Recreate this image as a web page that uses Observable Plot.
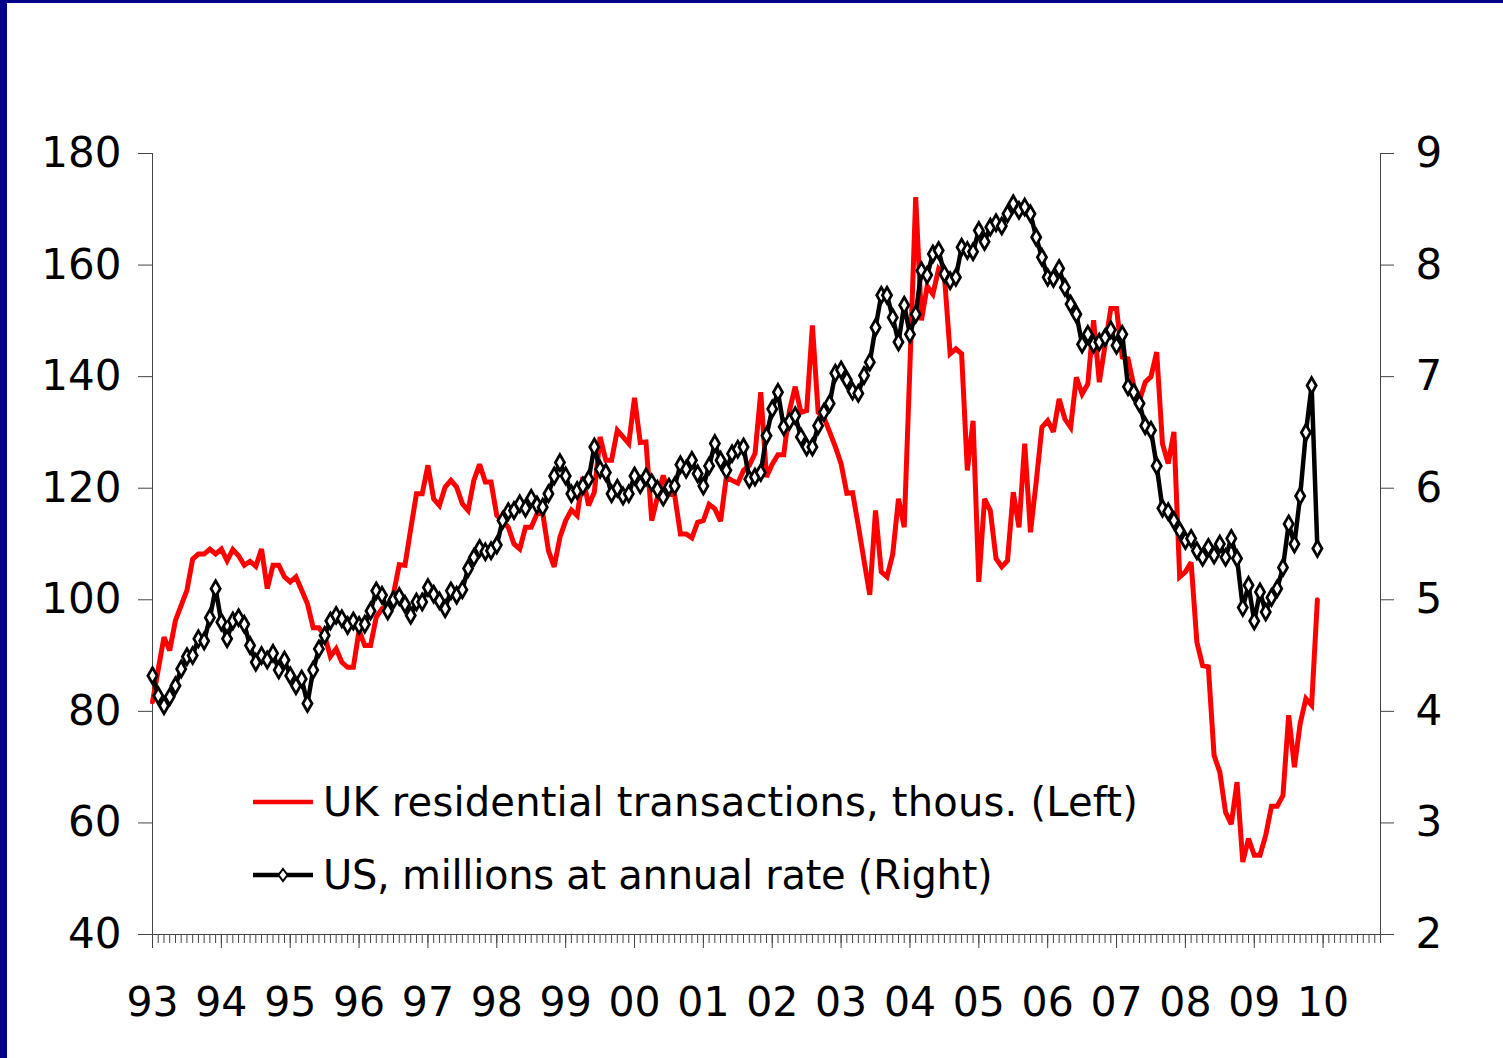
<!DOCTYPE html>
<html>
<head>
<meta charset="utf-8">
<script src="https://cdn.jsdelivr.net/npm/d3@7"></script>
<script src="https://cdn.jsdelivr.net/npm/@observablehq/plot@0.6"></script>
<style>
  html, body { margin: 0; padding: 0; background: #fff; }
  #wrap { position: relative; width: 1503px; height: 1058px; overflow: hidden; background: #fff; }
  #chart { position: absolute; left: 0; top: 0; }
  .bar-top { position: absolute; left: 0; top: 0; width: 1503px; height: 3px; background: #00008c; }
  .bar-left { position: absolute; left: 0; top: 0; width: 7px; height: 1058px; background: #00008c; }
  .legend-row { position: absolute; left: 253px; height: 50px; display: flex; align-items: center;
    font-family: "DejaVu Sans", sans-serif; font-size: 40px; color: #000; white-space: nowrap; }
  .legend-row svg { margin-right: 10px; }
  #leg1 span { letter-spacing: 0.2px; }
  #leg2 span { letter-spacing: -0.28px; }
</style>
</head>
<body>
<div id="wrap">
  <div id="chart"></div>
  <div class="bar-top"></div>
  <div class="bar-left"></div>
  <div class="legend-row" id="leg1"></div>
  <div class="legend-row" id="leg2"></div>
</div>
<script>
// Monthly data, Jan 1993 .. Dec 2009
const startYear = 1993;
const yearLabels = ["93","94","95","96","97","98","99","00","01","02","03","04","05","06","07","08","09","10"];
const leftTicks = [40, 60, 80, 100, 120, 140, 160, 180];
const rightTicks = [2, 3, 4, 5, 6, 7, 8, 9];
const seriesNames = ["UK residential transactions, thous. (Left)", "US, millions at annual rate (Right)"];

// UK residential transactions, thousands (left axis)
const ukValues = [
  81.7, 87.5, 93.3, 90.9, 96.3, 99.0, 101.7, 107.3, 108.2, 108.2, 109.1, 108.2,
  109.1, 107.0, 109.0, 107.9, 106.2, 106.9, 106.0, 109.1, 102.0, 106.2, 106.2, 104.1,
  103.2, 104.1, 101.7, 99.3, 95.0, 95.0, 93.6, 89.8, 91.2, 88.8, 87.9, 87.9,
  94.5, 91.8, 91.8, 96.9, 98.4, 99.0, 101.1, 106.3, 106.2, 112.7, 119.0, 119.0,
  124.1, 118.1, 116.9, 120.2, 121.4, 120.2, 117.2, 116.0, 121.4, 124.3, 121.1, 121.1,
  115.1, 114.2, 113.0, 110.0, 109.1, 113.0, 113.0, 115.4, 115.5, 108.8, 105.9, 111.2,
  114.2, 116.1, 115.1, 122.0, 116.9, 119.3, 129.2, 125.0, 125.0, 130.4, 129.2, 128.0,
  136.2, 128.2, 128.3, 114.2, 118.4, 122.3, 119.0, 118.7, 111.8, 111.8, 111.1, 113.9,
  114.2, 117.1, 116.3, 114.1, 122.0, 121.4, 120.9, 123.2, 124.1, 126.2, 137.2, 122.0,
  124.3, 126.0, 126.0, 133.9, 138.2, 133.6, 133.9, 149.2, 133.6, 132.7, 130.1, 127.4,
  124.4, 119.1, 119.2, 113.3, 107.0, 100.9, 116.0, 105.0, 104.1, 108.2, 118.1, 113.0,
  142.0, 172.2, 150.1, 156.2, 154.8, 159.3, 158.1, 144.1, 145.0, 144.1, 123.2, 132.1,
  103.2, 118.1, 116.0, 107.4, 105.9, 107.0, 119.3, 113.0, 128.0, 112.1, 121.1, 130.9,
  132.1, 130.1, 136.0, 132.4, 130.9, 139.9, 136.9, 138.7, 150.1, 139.0, 145.6, 152.2,
  152.2, 143.5, 143.2, 138.4, 135.7, 139.0, 140.0, 144.4, 128.0, 124.4, 130.1, 104.1,
  105.0, 106.7, 92.4, 88.2, 88.0, 72.1, 69.1, 61.9, 59.8, 67.3, 53.0, 57.2,
  54.2, 54.2, 57.8, 63.0, 63.0, 64.9, 79.3, 70.0, 77.8, 82.3, 81.1, 100.0
];

// US home sales, millions at annual rate (right axis)
const usValues = [
  4.32, 4.14, 4.05, 4.13, 4.23, 4.38, 4.49, 4.50, 4.65, 4.63, 4.84, 5.10,
  4.80, 4.65, 4.81, 4.84, 4.78, 4.59, 4.44, 4.50, 4.46, 4.52, 4.37, 4.46,
  4.32, 4.23, 4.29, 4.07, 4.37, 4.56, 4.68, 4.81, 4.86, 4.83, 4.77, 4.81,
  4.77, 4.78, 4.90, 5.08, 5.04, 4.90, 5.00, 5.03, 4.96, 4.86, 4.98, 4.98,
  5.11, 5.05, 4.99, 4.92, 5.08, 5.04, 5.09, 5.28, 5.38, 5.46, 5.43, 5.44,
  5.49, 5.71, 5.79, 5.80, 5.86, 5.82, 5.91, 5.85, 5.83, 5.95, 6.11, 6.23,
  6.11, 5.95, 5.98, 6.02, 6.08, 6.37, 6.17, 6.14, 5.95, 6.00, 5.93, 5.95,
  6.11, 6.03, 6.10, 6.05, 5.99, 5.92, 6.01, 6.02, 6.21, 6.17, 6.25, 6.13,
  6.02, 6.20, 6.40, 6.25, 6.16, 6.31, 6.35, 6.37, 6.08, 6.10, 6.14, 6.47,
  6.71, 6.86, 6.55, 6.60, 6.65, 6.46, 6.37, 6.37, 6.56, 6.68, 6.76, 7.03,
  7.06, 6.97, 6.87, 6.85, 7.01, 7.13, 7.44, 7.73, 7.73, 7.53, 7.31, 7.64,
  7.38, 7.56, 7.95, 7.91, 8.10, 8.13, 7.92, 7.86, 7.89, 8.16, 8.13, 8.12,
  8.31, 8.21, 8.34, 8.38, 8.35, 8.46, 8.55, 8.49, 8.52, 8.46, 8.25, 8.07,
  7.89, 7.88, 7.97, 7.80, 7.65, 7.56, 7.29, 7.38, 7.29, 7.31, 7.35, 7.42,
  7.28, 7.38, 6.91, 6.86, 6.76, 6.56, 6.52, 6.20, 5.82, 5.79, 5.71, 5.62,
  5.53, 5.55, 5.44, 5.38, 5.47, 5.40, 5.50, 5.38, 5.55, 5.37, 4.93, 5.13,
  4.81, 5.07, 4.89, 5.02, 5.10, 5.29, 5.68, 5.50, 5.93, 6.50, 6.92, 5.46
];

// month index since Jan 1993
const monthIndex = d3.range(ukValues.length);
const uk = monthIndex.map(i => ({m: i, v: ukValues[i]}));
const us = monthIndex.map(i => ({m: i, v: usValues[i]}));

// right scale (2..9) mapped onto the left scale (40..180)
const rightToLeft = d3.scaleLinear().domain([rightTicks[0], rightTicks[rightTicks.length - 1]])
  .range([leftTicks[0], leftTicks[leftTicks.length - 1]]);

const xMax = 214;
const yearTicks = yearLabels.map((_, k) => k * 12);
const monthTicks = d3.range(0, xMax + 1);
const axisColor = "#444";
const font = "DejaVu Sans";

const chart = Plot.plot({
  width: 1503,
  height: 1058,
  marginLeft: 152,
  marginRight: 123,
  marginTop: 153,
  marginBottom: 124,
  x: {domain: [0, xMax], axis: null},
  y: {domain: [leftTicks[0], leftTicks[leftTicks.length - 1]], axis: null},
  style: {fontFamily: font, background: "transparent", color: "#000", overflow: "visible"},
  marks: [
    // minor monthly ticks
    Plot.axisX({ticks: monthTicks, tickSize: 9, tickFormat: () => "", label: null, stroke: axisColor, strokeWidth: 1}),
    // major yearly ticks with labels
    Plot.axisX({ticks: yearTicks, tickSize: 14, tickPadding: 38, fontSize: 41, label: null,
      tickFormat: d => yearLabels[yearTicks.indexOf(d)], stroke: axisColor, strokeWidth: 1, fill: "#000"}),
    // left axis
    Plot.axisY({ticks: leftTicks, anchor: "left", tickSize: 14, tickPadding: 17, fontSize: 42, label: null,
      stroke: axisColor, strokeWidth: 1, fill: "#000", tickFormat: d => String(d)}),
    // right axis
    Plot.axisY({ticks: leftTicks, anchor: "right", tickSize: 13, tickPadding: 22, fontSize: 42, label: null,
      stroke: axisColor, strokeWidth: 1, fill: "#000",
      tickFormat: d => String(rightTicks[leftTicks.indexOf(d)])}),
    // axis lines
    Plot.ruleX([0], {y1: leftTicks[0], y2: leftTicks[leftTicks.length - 1], stroke: axisColor, strokeWidth: 1}),
    Plot.ruleX([xMax], {y1: leftTicks[0], y2: leftTicks[leftTicks.length - 1], stroke: axisColor, strokeWidth: 1}),
    Plot.ruleY([leftTicks[0]], {x1: 0, x2: xMax, stroke: axisColor, strokeWidth: 1}),
    // UK series
    Plot.line(uk, {x: "m", y: "v", stroke: "#ff0000", strokeWidth: 5, strokeLinejoin: "miter", strokeMiterlimit: 3}),
    // US series
    Plot.line(us, {x: "m", y: d => rightToLeft(d.v), stroke: "#000", strokeWidth: 4.5, strokeLinejoin: "miter", strokeMiterlimit: 3}),
    Plot.dot(us, {x: "m", y: d => rightToLeft(d.v), symbol: "diamond", r: 4.8, fill: "#fff", stroke: "#000", strokeWidth: 2.8})
  ]
});
document.getElementById("chart").appendChild(chart);

// legend
const leg1 = document.getElementById("leg1");
leg1.style.top = "777px";
leg1.innerHTML = `<svg width="60" height="20"><line x1="0" x2="60" y1="10" y2="10" stroke="#ff0000" stroke-width="4.5"/></svg><span>${seriesNames[0]}</span>`;
const leg2 = document.getElementById("leg2");
leg2.style.top = "850px";
leg2.innerHTML = `<svg width="60" height="20"><line x1="0" x2="60" y1="10" y2="10" stroke="#000" stroke-width="4.5"/><path d="M30,4 L34.5,10 L30,16 L25.5,10 Z" fill="#fff" stroke="#000" stroke-width="2"/></svg><span>${seriesNames[1]}</span>`;
</script>
</body>
</html>
